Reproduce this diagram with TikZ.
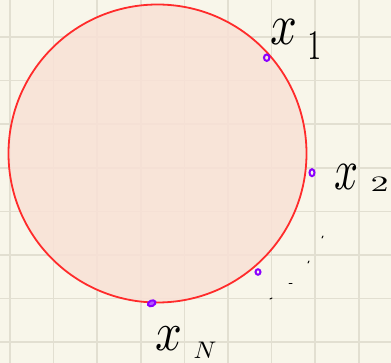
\documentclass[tikz,border=0pt]{standalone}
\definecolor{paper}{HTML}{F8F6EA}
\definecolor{gridc}{HTML}{E2DFD1}
\definecolor{peach}{HTML}{F9E1D6}
\definecolor{redc}{HTML}{FF2B2B}
\definecolor{purp}{HTML}{8B00FF}
\begin{document}
\begin{tikzpicture}[x=1pt,y=-1pt,
  ptmark/.style={draw=purp,line width=2pt,inner sep=0pt,minimum width=5.5pt,minimum height=6.5pt,ellipse},
  lab/.style={inner sep=0pt,anchor=base west},
  tick/.style={line width=1pt,line cap=round}]
\usetikzlibrary{shapes.geometric}
\fill[paper] (0,0) rectangle (391,363);
\useasboundingbox (0,0) rectangle (391,363);
\foreach \k in {0,...,8} {
  \draw[gridc,line width=1.5pt] (10+43.6*\k,0) -- (10+43.6*\k,363);
}
\foreach \k in {0,...,8} {
  \draw[gridc,line width=1.5pt] (0,-6.6+43.6*\k) -- (391,-6.6+43.6*\k);
}
\node[circle,fill=peach,fill opacity=0.85,draw=redc,line width=1.8pt,minimum size=298pt,inner sep=0pt] (disk) at (157.5,153.5) {};
\node[ptmark] (p1) at (266.7,57.7) {};
\node[ptmark,minimum width=5pt,minimum height=7pt] (p2) at (312,172.7) {};
\node[ptmark,minimum width=5pt,minimum height=5.5pt] (p3) at (258,272) {};
\node[ptmark,fill=purp!65,minimum width=8pt,minimum height=5.5pt,rotate=25] (pN) at (151.7,303.3) {};
\node[lab] (l1) at (270.5,45) {\scalebox{4.7}[5.8]{$x$}\hspace{10pt}\raisebox{-15pt}{\scalebox{2.7}[4.2]{$1$}}};
\node[lab] (l2) at (334.5,190) {\scalebox{4.2}[5.8]{$x$}\hspace{12pt}\raisebox{-2pt}{\scalebox{3.6}[2.2]{$2$}}};
\node[lab] (lN) at (155.5,351) {\scalebox{4.7}[5.5]{$x$}\hspace{11pt}\raisebox{-8pt}{\scalebox{2.5}[2.4]{$N$}}};
\coordinate (d1a) at (322,238); \coordinate (d1b) at (323,236);
\coordinate (d2a) at (308,263); \coordinate (d2b) at (309,261);
\coordinate (d3a) at (289,284); \coordinate (d3b) at (292,284);
\coordinate (d4a) at (270,299); \coordinate (d4b) at (272,298);
\draw[tick] (d1a) -- (d1b);
\draw[tick] (d2a) -- (d2b);
\draw[tick] (d3a) -- (d3b);
\draw[tick] (d4a) -- (d4b);
\end{tikzpicture}
\end{document}
